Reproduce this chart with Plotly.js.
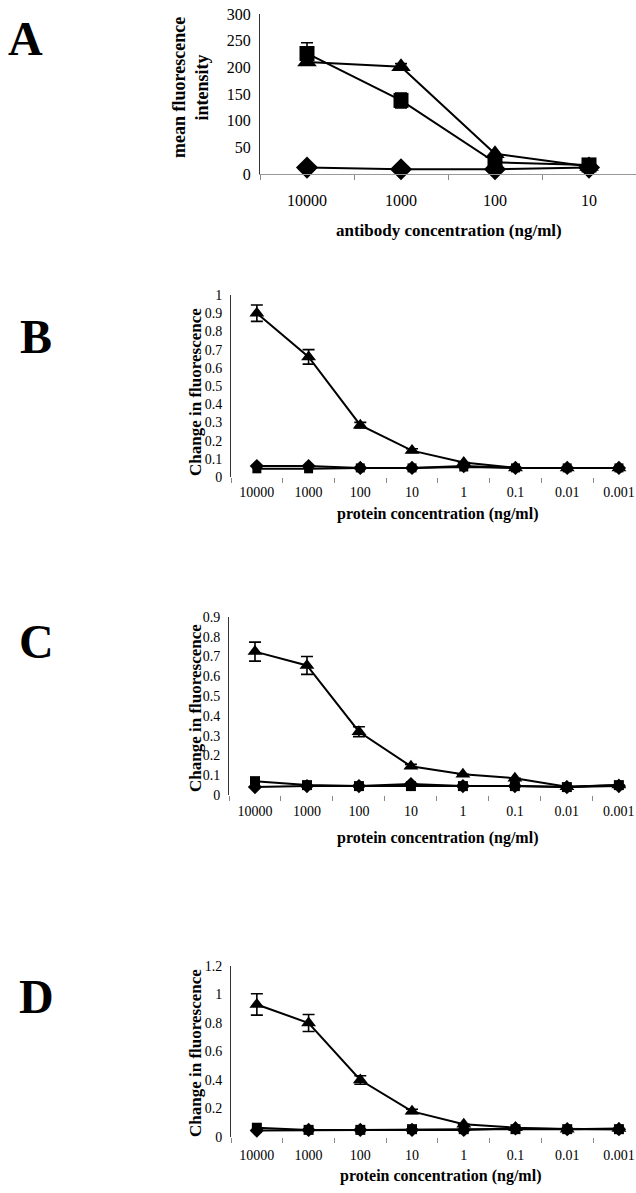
<!DOCTYPE html>
<html>
<head>
<meta charset="utf-8">
<script src="https://cdn.plot.ly/plotly-3.0.1.min.js"></script>
<style>html,body{margin:0;padding:0;background:#fff;overflow:hidden;}#chart{width:636px;height:1193px;}</style>
</head>
<body>
<div id="chart"></div>
<script>
// ---------- data ----------
const concA = ['10000', '1000', '100', '10'];
const conc = ['10000', '1000', '100', '10', '1', '0.1', '0.01', '0.001'];

// Panel A: mean fluorescence intensity
const A_triangle = [210, 201, 38, 14];
const A_triangle_err = [0, 6, 0, 0];
const A_square = [226, 138, 22, 17];
const A_square_err = [20, 14, 0, 0];
const A_diamond = [12, 9, 9, 12];

// Panel B
const B_triangle = [0.90, 0.66, 0.285, 0.145, 0.08, 0.05, 0.05, 0.05];
const B_triangle_err = [0.045, 0.04, 0.015, 0.01, 0, 0, 0, 0];
const B_square = [0.045, 0.045, 0.05, 0.05, 0.055, 0.05, 0.05, 0.05];
const B_diamond = [0.06, 0.06, 0.05, 0.05, 0.06, 0.05, 0.05, 0.05];

// Panel C
const C_triangle = [0.725, 0.655, 0.32, 0.145, 0.105, 0.085, 0.042, 0.05];
const C_triangle_err = [0.048, 0.045, 0.025, 0.01, 0, 0, 0, 0];
const C_square = [0.07, 0.05, 0.045, 0.045, 0.045, 0.045, 0.04, 0.05];
const C_diamond = [0.04, 0.045, 0.045, 0.055, 0.045, 0.045, 0.04, 0.045];

// Panel D
const D_triangle = [0.93, 0.80, 0.40, 0.18, 0.09, 0.065, 0.055, 0.06];
const D_triangle_err = [0.075, 0.06, 0.03, 0.015, 0, 0, 0, 0];
const D_square = [0.065, 0.05, 0.05, 0.055, 0.055, 0.055, 0.055, 0.055];
const D_diamond = [0.045, 0.05, 0.05, 0.05, 0.05, 0.06, 0.055, 0.055];

// ---------- helpers ----------
const W = 636, H = 1193;
const fx = p => p / W;
const fy = p => (H - p) / H;
const serif = 'Liberation Serif, Times New Roman, serif';

function tr(x, y, err, symbol, size, xa, ya) {
  const t = {
    x: x, y: y, type: 'scatter', mode: 'lines+markers',
    xaxis: xa, yaxis: ya,
    line: {color: '#000', width: 2},
    marker: {symbol: symbol, size: size, color: '#000'},
    showlegend: false, cliponaxis: false
  };
  if (err) t.error_y = {type: 'data', array: err, visible: true, color: '#000', thickness: 1.6, width: 6};
  return t;
}

const data = [
  tr(concA, A_diamond, null, 'diamond', 17, 'x', 'y'),
  tr(concA, A_square, A_square_err, 'square', 15, 'x', 'y'),
  tr(concA, A_triangle, A_triangle_err, 'triangle-up', 17, 'x', 'y'),

  tr(conc, B_square, null, 'square', 9, 'x2', 'y2'),
  tr(conc, B_diamond, null, 'diamond', 11, 'x2', 'y2'),
  tr(conc, B_triangle, B_triangle_err, 'triangle-up', 13, 'x2', 'y2'),

  tr(conc, C_diamond, null, 'diamond', 11, 'x3', 'y3'),
  tr(conc, C_square, null, 'square', 10, 'x3', 'y3'),
  tr(conc, C_triangle, C_triangle_err, 'triangle-up', 13, 'x3', 'y3'),

  tr(conc, D_diamond, null, 'diamond', 11, 'x4', 'y4'),
  tr(conc, D_square, null, 'square', 10, 'x4', 'y4'),
  tr(conc, D_triangle, D_triangle_err, 'triangle-up', 13, 'x4', 'y4')
];

function xax(domain, range, anchor, fs, standoff, showline) {
  return {
    domain: domain, range: range, anchor: anchor, type: 'category',
    showgrid: false, zeroline: false,
    showline: showline, linecolor: '#999', linewidth: 1,
    ticks: 'outside', tickson: 'boundaries', ticklen: 5, tickcolor: '#888', tickwidth: 1,
    ticklabelstandoff: standoff,
    tickfont: {family: serif, size: fs, color: '#000'}
  };
}
function yax(domain, range, dtick, anchor, fs) {
  return {
    domain: domain, range: range, dtick: dtick, anchor: anchor,
    showgrid: false, zeroline: false,
    showline: true, linecolor: '#333', linewidth: 1,
    ticks: '', ticklabelstandoff: 5,
    tickfont: {family: serif, size: fs, color: '#000'}
  };
}

function ann(text, xp, yp, size, angle, extra) {
  return Object.assign({
    text: text, x: fx(xp), y: fy(yp), xref: 'paper', yref: 'paper',
    showarrow: false, textangle: angle || 0,
    xanchor: 'center', yanchor: 'middle',
    font: {family: serif, size: size, color: '#000'}
  }, extra || {});
}

const layout = {
  width: W, height: H,
  margin: {l: 0, r: 0, t: 0, b: 0},
  paper_bgcolor: '#fff', plot_bgcolor: '#fff',
  xaxis: xax([fx(260), 1], [-0.5, 3.5], 'y', 16, 12, true),
  yaxis: yax([fy(174), fy(14)], [0, 300], 50, 'x', 16),
  xaxis2: xax([fx(231), 1], [-0.5, 7.33], 'y2', 14, 5, false),
  yaxis2: yax([fy(477), fy(295)], [0, 1], 0.1, 'x2', 14),
  xaxis3: xax([fx(229), 1], [-0.5, 7.33], 'y3', 14, 6, false),
  yaxis3: yax([fy(795), fy(617)], [0, 0.9], 0.1, 'x3', 14),
  xaxis4: xax([fx(231), 1], [-0.5, 7.33], 'y4', 14, 8, false),
  yaxis4: yax([fy(1137), fy(966)], [0, 1.2], 0.2, 'x4', 14),
  annotations: [
    ann('<b>A</b>', 25, 38, 48),
    ann('<b>B</b>', 36, 336, 48),
    ann('<b>C</b>', 36, 641, 48),
    ann('<b>D</b>', 36, 996, 48),

    ann('<b>mean fluorescence<br>intensity</b>', 191, 88, 18, -90),
    ann('<b>antibody concentration (ng/ml)</b>', 449, 231, 17),

    ann('<b>Change in fluorescence</b>', 195, 392, 17, -90),
    ann('<b>protein concentration (ng/ml)</b>', 437, 514, 16),

    ann('<b>Change in fluorescence</b>', 195, 708, 17, -90),
    ann('<b>protein concentration (ng/ml)</b>', 437, 838, 16),

    ann('<b>Change in fluorescence</b>', 195, 1053, 17, -90),
    ann('<b>protein concentration (ng/ml)</b>', 440, 1176, 16)
  ]
};

Plotly.newPlot('chart', data, layout, {staticPlot: true, displayModeBar: false});
</script>
</body>
</html>
